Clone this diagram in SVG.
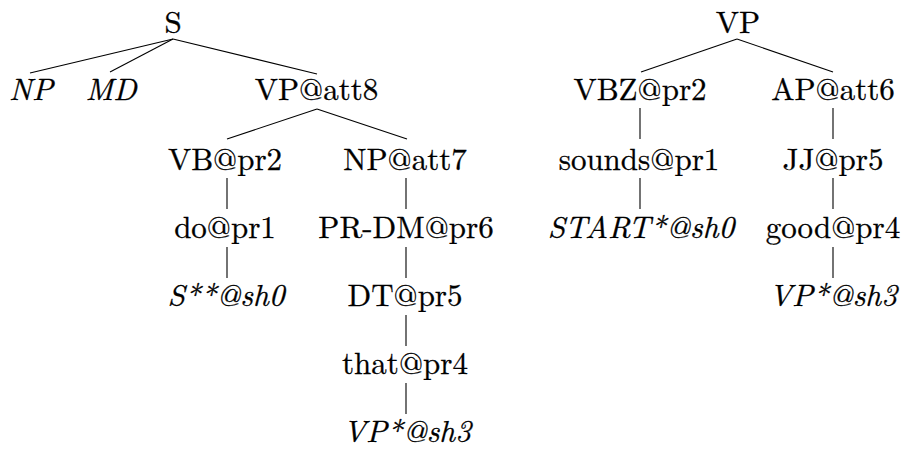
<svg xmlns="http://www.w3.org/2000/svg" width="904" height="450" viewBox="0 0 904 450">
<style>
text{font-family:'Latin Modern Roman','Times New Roman','Liberation Serif',serif;font-size:31px;fill:#000;stroke:#000;stroke-width:0.3;text-anchor:middle}
.it{font-style:italic}
.e{stroke:#000;stroke-width:1.1;fill:none}
</style>
<rect width="904" height="450" fill="#fff"/>
<g id="connectors" class="e">
<line x1="173" y1="39" x2="30" y2="73"/>
<line x1="173" y1="39" x2="110" y2="72"/>
<line x1="173" y1="39" x2="317" y2="74"/>
<line x1="317" y1="109" x2="227" y2="139"/>
<line x1="317" y1="109" x2="407" y2="139"/>
<line x1="227" y1="178" x2="227" y2="209"/>
<line x1="227" y1="247" x2="227" y2="278"/>
<line x1="406" y1="178" x2="406" y2="209"/>
<line x1="406" y1="247" x2="406" y2="278"/>
<line x1="406" y1="315" x2="406" y2="346"/>
<line x1="406" y1="383" x2="406" y2="414"/>
<line x1="737" y1="39" x2="641" y2="72"/>
<line x1="737" y1="39" x2="833" y2="72"/>
<line x1="640" y1="108" x2="640" y2="139"/>
<line x1="640" y1="178" x2="640" y2="209"/>
<line x1="833" y1="108" x2="833" y2="139"/>
<line x1="833" y1="178" x2="833" y2="209"/>
<line x1="833" y1="247" x2="833" y2="278"/>
</g>
<g id="S"><text x="173" y="33">S</text></g>
<g id="NP"><text class="it" x="31" y="100">NP</text></g>
<g id="MD"><text class="it" x="111" y="100">MD</text></g>
<g id="VP_att8"><text x="316.5" y="100">VP@att8</text></g>
<g id="VB_pr2"><text x="225" y="170">VB@pr2</text></g>
<g id="NP_att7"><text x="405" y="170">NP@att7</text></g>
<g id="do_pr1"><text x="225" y="238">do@pr1</text></g>
<g id="PR-DM_pr6"><text x="406" y="238">PR-DM@pr6</text></g>
<g id="S_sh0"><text class="it" x="226" y="306">S**@sh0</text></g>
<g id="DT_pr5"><text x="405" y="306">DT@pr5</text></g>
<g id="that_pr4"><text x="405" y="374">that@pr4</text></g>
<g id="VP_sh3_a"><text class="it" x="407" y="442">VP*@sh3</text></g>
<g id="VP"><text x="738" y="33">VP</text></g>
<g id="VBZ_pr2"><text x="640" y="100">VBZ@pr2</text></g>
<g id="AP_att6"><text x="833" y="100">AP@att6</text></g>
<g id="sounds_pr1"><text x="639" y="170">sounds@pr1</text></g>
<g id="JJ_pr5"><text x="833" y="170">JJ@pr5</text></g>
<g id="START_sh0"><text class="it" x="641" y="238">START*@sh0</text></g>
<g id="good_pr4"><text x="833" y="238">good@pr4</text></g>
<g id="VP_sh3_b"><text class="it" x="833" y="306">VP*@sh3</text></g>
</svg>
